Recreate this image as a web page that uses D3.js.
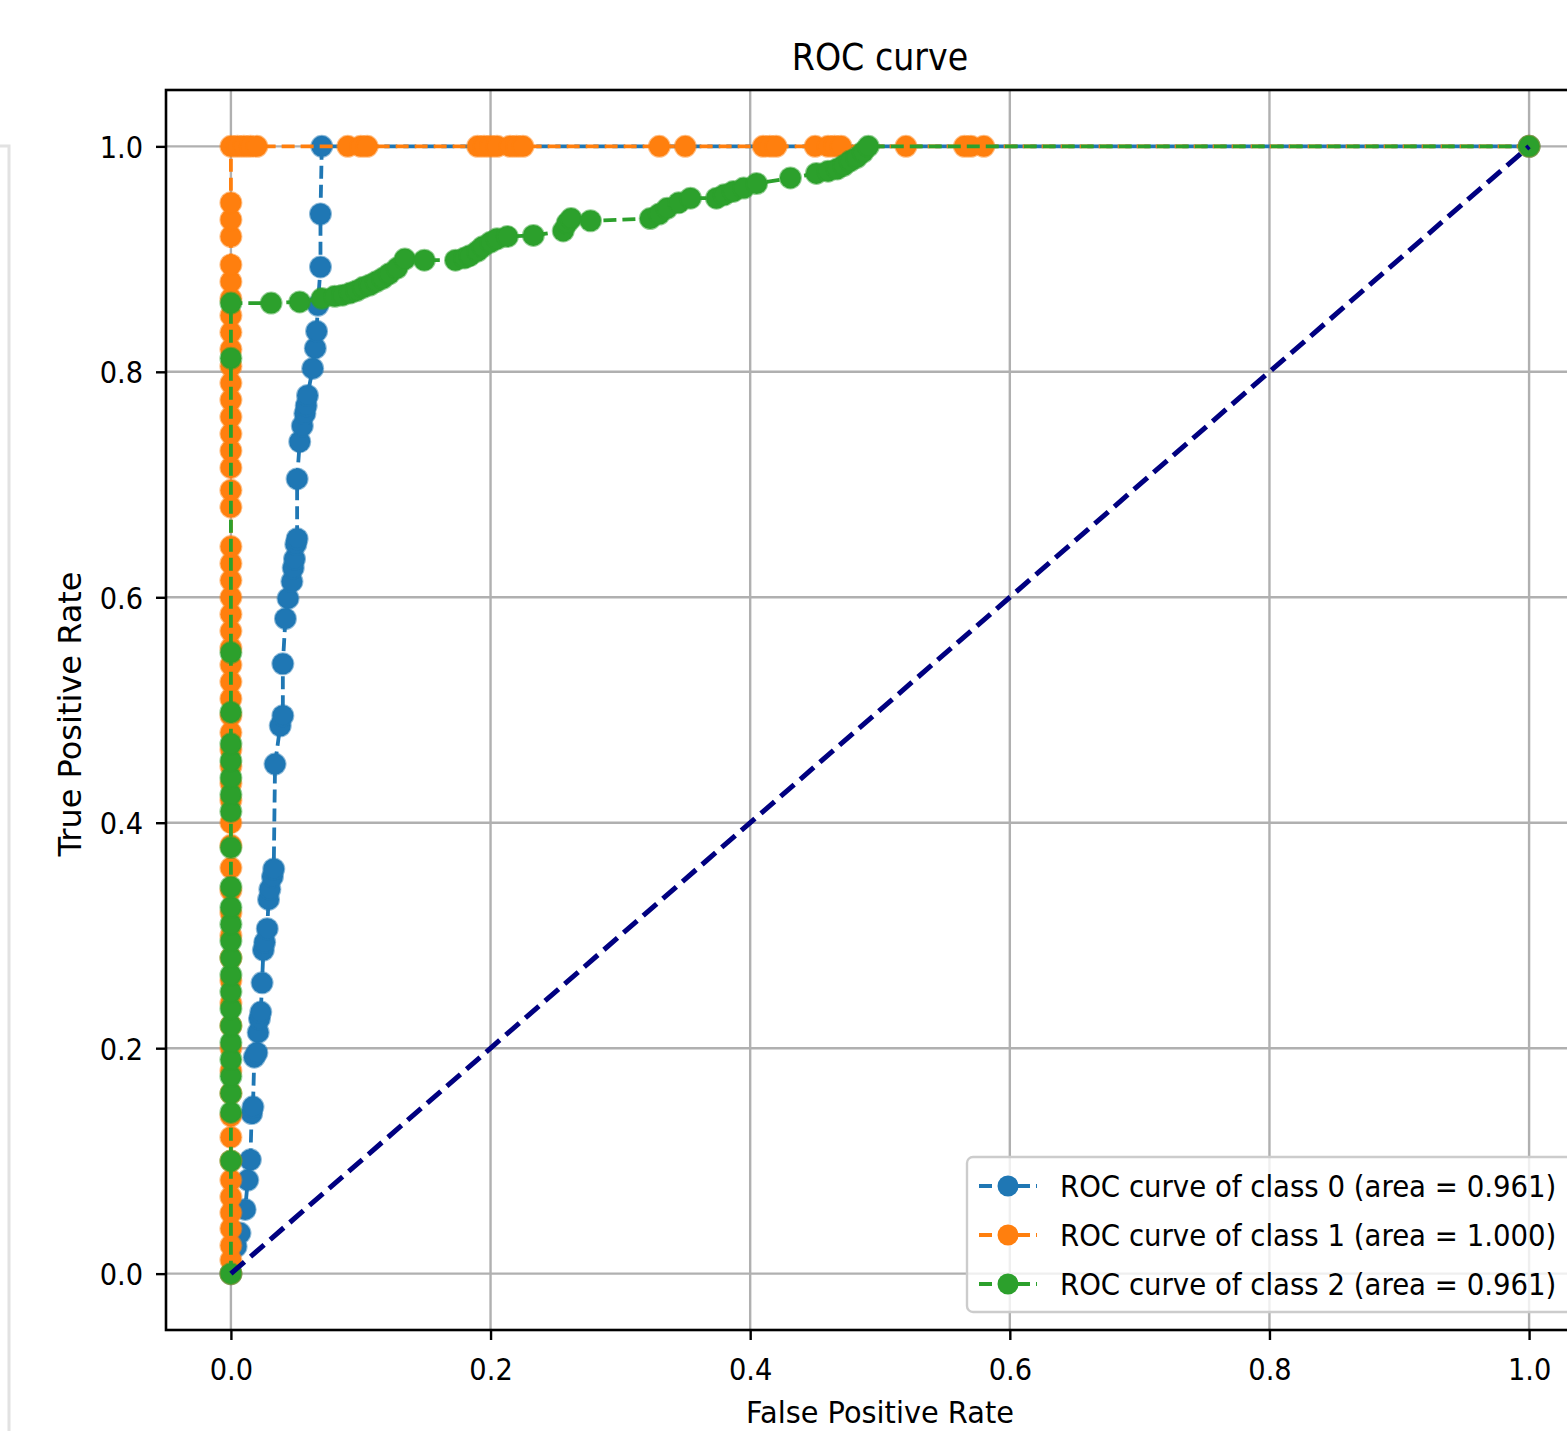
<!DOCTYPE html>
<html>
<head>
<meta charset="utf-8">
<script src="https://cdn.jsdelivr.net/npm/d3@7"></script>
<style>
  body { margin: 0; background: #fff; }
  svg { display: block; }
  text { font-family: "DejaVu Sans", "Open Sans", sans-serif; fill: #000; }
</style>
</head>
<body>
<svg width="1567" height="1431"></svg>
<script>
// ROC points [fpr, tpr]
var class0 = [[0,0],[0.004,0.024],[0.007,0.036],[0.011,0.057],[0.013,0.083],[0.015,0.101],
  [0.016,0.142],[0.017,0.148],[0.018,0.192],[0.020,0.196],[0.021,0.214],[0.022,0.226],
  [0.023,0.232],[0.024,0.258],[0.025,0.287],[0.026,0.294],[0.028,0.306],[0.029,0.332],
  [0.030,0.341],[0.032,0.352],[0.033,0.359],[0.034,0.452],[0.038,0.486],[0.040,0.495],
  [0.040,0.541],[0.042,0.581],[0.044,0.599],[0.047,0.614],[0.048,0.626],[0.049,0.634],
  [0.050,0.647],[0.051,0.652],[0.051,0.705],[0.053,0.738],[0.055,0.752],[0.057,0.763],
  [0.058,0.770],[0.059,0.779],[0.063,0.803],[0.065,0.821],[0.066,0.836],[0.067,0.859],
  [0.069,0.893],[0.069,0.940],[0.070,1],[1,1]];

var class1 = [[0,0],[0,0.012],[0,0.025],[0,0.04],[0,0.054],[0,0.068],[0,0.083],[0,0.1],
  [0,0.121],[0,0.14],[0,0.16],[0,0.18],[0,0.2],[0,0.22],[0,0.24],[0,0.26],[0,0.28],[0,0.3],
  [0,0.32],[0,0.34],[0,0.36],[0,0.38],[0,0.4],[0,0.42],[0,0.435],[0,0.45],[0,0.465],[0,0.48],
  [0,0.495],[0,0.51],[0,0.525],[0,0.54],[0,0.555],[0,0.57],[0,0.585],[0,0.6],[0,0.615],
  [0,0.63],[0,0.645],[0,0.68],[0,0.695],[0,0.715],[0,0.73],[0,0.745],[0,0.76],[0,0.775],
  [0,0.79],[0,0.805],[0,0.82],[0,0.835],[0,0.85],[0,0.865],[0,0.88],[0,0.895],[0,0.92],
  [0,0.935],[0,0.95],[0,1],[0.005,1],[0.01,1],[0.015,1],[0.02,1],[0.09,1],[0.1,1],[0.105,1],
  [0.19,1],[0.195,1],[0.2,1],[0.205,1],[0.215,1],[0.22,1],[0.225,1],[0.33,1],[0.35,1],
  [0.41,1],[0.415,1],[0.42,1],[0.45,1],[0.46,1],[0.465,1],[0.47,1],[0.52,1],[0.565,1],
  [0.57,1],[0.58,1],[1,1]];

var class2 = [[0,0],[0,0.1],[0,0.143],[0,0.16],[0,0.175],[0,0.19],[0,0.205],[0,0.22],
  [0,0.235],[0,0.25],[0,0.265],[0,0.28],[0,0.295],[0,0.31],[0,0.325],[0,0.343],[0,0.378],
  [0,0.41],[0,0.425],[0,0.44],[0,0.455],[0,0.47],[0,0.498],[0,0.551],[0,0.812],[0,0.861],
  [0.031,0.861],[0.053,0.862],[0.070,0.865],[0.080,0.867],[0.086,0.868],[0.092,0.870],
  [0.097,0.872],[0.102,0.875],[0.107,0.877],[0.112,0.880],[0.117,0.883],[0.122,0.887],
  [0.128,0.892],[0.134,0.900],[0.149,0.899],[0.173,0.899],[0.180,0.901],[0.184,0.903],
  [0.190,0.907],[0.194,0.911],[0.200,0.915],[0.205,0.918],[0.213,0.920],[0.233,0.921],
  [0.256,0.925],[0.259,0.932],[0.262,0.936],[0.277,0.934],[0.323,0.936],[0.330,0.940],
  [0.336,0.945],[0.345,0.950],[0.354,0.954],[0.374,0.954],[0.380,0.957],[0.387,0.960],
  [0.395,0.963],[0.405,0.967],[0.431,0.972],[0.451,0.976],[0.460,0.978],[0.467,0.980],
  [0.472,0.983],[0.477,0.987],[0.482,0.990],[0.487,0.995],[0.491,1],[1,1]];

var chance = [[0,0],[1,1]];

var seriesNames = ["ROC curve of class 0 (area = 0.961)",
                   "ROC curve of class 1 (area = 1.000)",
                   "ROC curve of class 2 (area = 0.961)"];
var seriesColors = ["#1f77b4", "#ff7f0e", "#2ca02c"];
var tickValues = [0, 0.2, 0.4, 0.6, 0.8, 1.0];

var svg = d3.select("svg"),
    margin = {top: 90, left: 166, bottom: 101, right: -27},
    width = +svg.attr("width") - margin.left - margin.right,
    height = +svg.attr("height") - margin.top - margin.bottom,
    sx = 0.88;

svg.append("rect").attr("width", 1567).attr("height", 1431).attr("fill", "#fff");

// faint frame of the page the figure sits in
svg.append("path")
    .attr("d", "M0,146H9V1431")
    .attr("fill", "none")
    .attr("stroke", "#e2e2e2")
    .attr("stroke-width", 3);

var x = d3.scaleLinear().domain([-0.05, 1.05]).range([0, width]);
var y = d3.scaleLinear().domain([-0.05, 1.05]).range([height, 0]);

var g = svg.append("g")
    .attr("transform", "translate(" + margin.left + "," + margin.top + ")");

g.append("clipPath").attr("id", "clip")
  .append("rect").attr("width", width).attr("height", height);

// grid
g.append("g").selectAll("line")
    .data(tickValues)
  .enter().append("line")
    .attr("x1", function(d) { return x(d); })
    .attr("x2", function(d) { return x(d); })
    .attr("y1", 0).attr("y2", height)
    .attr("stroke", "#b0b0b0").attr("stroke-width", 2.4);

g.append("g").selectAll("line")
    .data(tickValues)
  .enter().append("line")
    .attr("y1", function(d) { return y(d); })
    .attr("y2", function(d) { return y(d); })
    .attr("x1", 0).attr("x2", width)
    .attr("stroke", "#b0b0b0").attr("stroke-width", 2.4);

var line = d3.line()
    .x(function(d) { return x(d[0]); })
    .y(function(d) { return y(d[1]); });

var plot = g.append("g").attr("clip-path", "url(#clip)");

[class0, class1, class2].forEach(function(data, i) {
  var s = plot.append("g");
  s.append("path")
      .attr("d", line(data))
      .attr("fill", "none")
      .attr("stroke", seriesColors[i])
      .attr("stroke-width", 3.8)
      .attr("stroke-dasharray", "13,6");
  s.selectAll("circle")
      .data(data)
    .enter().append("circle")
      .attr("cx", function(d) { return x(d[0]); })
      .attr("cy", function(d) { return y(d[1]); })
      .attr("r", 10.5)
      .attr("fill", seriesColors[i])
      .attr("stroke", seriesColors[i])
      .attr("stroke-opacity", 0.5)
      .attr("stroke-width", 2);
});

plot.append("path")
    .attr("d", line(chance))
    .attr("fill", "none")
    .attr("stroke", "#000080")
    .attr("stroke-width", 5)
    .attr("stroke-dasharray", "18,8");

// axes
var fmt = d3.format(".1f");

var xAxis = g.append("g")
    .attr("transform", "translate(0," + height + ")")
    .call(d3.axisBottom(x).tickValues(tickValues).tickFormat(fmt).tickSize(10).tickSizeOuter(0));

var yAxis = g.append("g")
    .call(d3.axisLeft(y).tickValues(tickValues).tickFormat(fmt).tickSize(10).tickSizeOuter(0));

[xAxis, yAxis].forEach(function(a) {
  a.select(".domain").remove();
  a.selectAll(".tick line").attr("stroke", "#000").attr("stroke-width", 2.4);
  a.selectAll(".tick text").attr("fill", "#000").style("font-size", "31px")
      .attr("font-family", null);
});

xAxis.selectAll(".tick text")
    .attr("y", null).attr("dy", null)
    .attr("transform", "translate(0,50) scale(" + sx + ",1)");

yAxis.selectAll(".tick text")
    .attr("x", null).attr("dy", "0.36em")
    .attr("transform", "translate(-23,0) scale(" + sx + ",1)");

// frame
g.append("rect")
    .attr("width", width).attr("height", height)
    .attr("fill", "none").attr("stroke", "#000").attr("stroke-width", 2.6);

// labels
svg.append("text")
    .attr("text-anchor", "middle")
    .attr("transform", "translate(" + (margin.left + width / 2) + ",70) scale(0.9,1)")
    .style("font-size", "37px")
    .text("ROC curve");

svg.append("text")
    .attr("text-anchor", "middle")
    .attr("transform", "translate(" + (margin.left + width / 2) + ",1423) scale(0.93,1)")
    .style("font-size", "31px")
    .text("False Positive Rate");

svg.append("text")
    .attr("text-anchor", "middle")
    .attr("transform", "translate(81," + (margin.top + height / 2 + 4) + ") rotate(-90)")
    .style("font-size", "32px")
    .text("True Positive Rate");

// legend
var legend = svg.append("g").attr("transform", "translate(967,1157)");

legend.append("rect")
    .attr("width", 680).attr("height", 155)
    .attr("rx", 6)
    .attr("fill", "#fff").attr("fill-opacity", 0.8)
    .attr("stroke", "#cccccc").attr("stroke-width", 2.4);

var item = legend.selectAll(".item")
    .data(seriesNames)
  .enter().append("g")
    .attr("transform", function(d, i) { return "translate(0," + (29 + i * 49) + ")"; });

item.append("line")
    .attr("x1", 12).attr("x2", 70)
    .attr("stroke", function(d, i) { return seriesColors[i]; })
    .attr("stroke-width", 3.8)
    .attr("stroke-dasharray", "13,6");

item.append("circle")
    .attr("cx", 41).attr("r", 10.5)
    .attr("fill", function(d, i) { return seriesColors[i]; });

item.append("text")
    .attr("transform", "translate(93,0) scale(0.89,1)")
    .attr("dy", "0.36em")
    .style("font-size", "31px")
    .text(function(d) { return d; });
</script>
</body>
</html>
